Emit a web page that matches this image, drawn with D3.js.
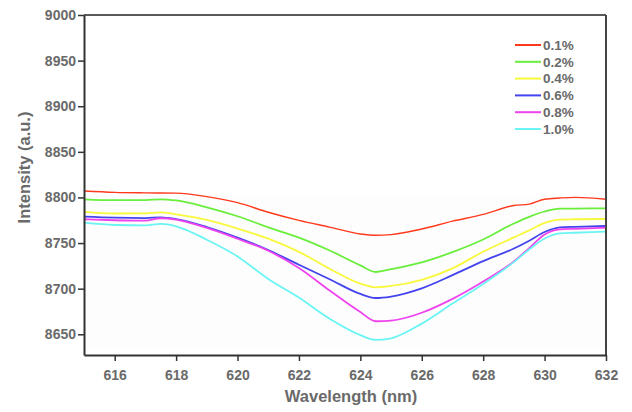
<!DOCTYPE html>
<html>
<head>
<meta charset="utf-8">
<script src="https://cdn.jsdelivr.net/npm/d3@7"></script>
<style>
  html, body { margin: 0; padding: 0; background: #fff; }
  svg { display: block; font-family: "Liberation Sans", Arial, sans-serif; }
</style>
</head>
<body>
<svg id="chart" width="632" height="412"></svg>
<script>
// Emission intensity vs wavelength for several dopant concentrations
const wavelengths = [615, 616, 617, 617.5, 618, 619, 620, 621, 622, 623, 624, 624.5, 625, 626, 627, 628, 629, 629.5, 630, 630.5, 631, 632];

const conc01 = [8807.1, 8805.6, 8805.0, 8804.8, 8804.7, 8800.9, 8794.4, 8783.8, 8774.9, 8767.5, 8760.0, 8758.5, 8759.2, 8765.4, 8774.0, 8781.4, 8791.2, 8792.7, 8798.1, 8799.4, 8800.1, 8798.1];
const conc02 = [8798.0, 8797.0, 8797.1, 8798.0, 8796.7, 8789.2, 8779.4, 8767.2, 8756.0, 8741.9, 8725.5, 8718.3, 8721.4, 8728.8, 8740.1, 8753.9, 8771.5, 8778.8, 8784.6, 8787.7, 8787.8, 8788.1];
const conc04 = [8784.1, 8782.4, 8782.6, 8783.7, 8781.4, 8775.3, 8765.9, 8754.9, 8740.4, 8721.8, 8705.5, 8701.5, 8703.0, 8709.7, 8722.2, 8740.5, 8756.2, 8763.9, 8772.1, 8775.8, 8776.1, 8776.4];
const conc06 = [8778.9, 8777.8, 8777.4, 8778.2, 8776.3, 8767.6, 8756.0, 8742.4, 8726.2, 8710.4, 8694.2, 8689.8, 8691.4, 8700.4, 8714.8, 8730.2, 8744.0, 8752.6, 8762.1, 8767.2, 8767.8, 8768.7];
const conc08 = [8776.1, 8775.0, 8774.5, 8777.2, 8775.6, 8766.6, 8754.7, 8741.6, 8722.6, 8698.0, 8674.4, 8664.3, 8665.0, 8673.6, 8688.8, 8707.9, 8729.8, 8744.5, 8759.4, 8765.1, 8765.6, 8766.9];
const conc10 = [8772.3, 8769.8, 8769.3, 8771.0, 8768.4, 8753.7, 8735.4, 8710.6, 8690.3, 8667.0, 8649.1, 8643.8, 8645.6, 8661.7, 8683.7, 8705.2, 8729.1, 8743.0, 8755.0, 8760.7, 8761.3, 8762.5];

const seriesLabels = ["0.1%", "0.2%", "0.4%", "0.6%", "0.8%", "1.0%"];
const seriesValues = [conc01, conc02, conc04, conc06, conc08, conc10];
const seriesColors = ["#ff3a1c", "#6aee3c", "#f8f83c", "#4444ee", "#ee44ee", "#6af4f4"];

const xTicks = [616, 618, 620, 622, 624, 626, 628, 630, 632];
const yTicks = [8650, 8700, 8750, 8800, 8850, 8900, 8950, 9000];

const margin = { left: 84, top: 15, right: 26, bottom: 57 };
const W = 632, H = 412;
const svg = d3.select("#chart");

const x = d3.scaleLinear().domain([615, 632]).range([margin.left, W - margin.right]);
const y = d3.scaleLinear().domain([8627.3, 9000]).range([H - margin.bottom, margin.top]);

const textGray = "#6a6a6a";

// very faint shaded band in the lower plot area
svg.append("rect")
  .attr("x", x(615)).attr("y", y(8803))
  .attr("width", x(632) - x(615)).attr("height", y(8634) - y(8803))
  .attr("fill", "#fdfdfd");

// data lines
const line = d3.line()
  .x((d, i) => x(wavelengths[i]))
  .y(d => y(d))
  .curve(d3.curveMonotoneX);

seriesValues.forEach((vals, k) => {
  svg.append("path")
    .datum(vals)
    .attr("fill", "none")
    .attr("stroke", seriesColors[k])
    .attr("stroke-width", k === 0 ? 1.4 : 1.8)
    .attr("stroke-linejoin", "round")
    .attr("d", line);
});

// frame: top and right edges
svg.append("line")
  .attr("x1", x(615)).attr("x2", x(632))
  .attr("y1", y(9000)).attr("y2", y(9000))
  .attr("stroke", "#5a5a5a").attr("stroke-width", 2);
svg.append("line")
  .attr("x1", x(632)).attr("x2", x(632))
  .attr("y1", y(9000)).attr("y2", y(8627.3))
  .attr("stroke", "#444").attr("stroke-width", 2);

// axes
const xAxis = d3.axisBottom(x).tickValues(xTicks).tickFormat(d3.format("d"))
  .tickSizeInner(6).tickSizeOuter(0).tickPadding(9);
const yAxis = d3.axisLeft(y).tickValues(yTicks).tickFormat(d3.format("d"))
  .tickSizeInner(6).tickSizeOuter(0).tickPadding(2);

const gx = svg.append("g").attr("transform", `translate(0,${H - margin.bottom})`).call(xAxis);
const gy = svg.append("g").attr("transform", `translate(${margin.left},0)`).call(yAxis);

[gx, gy].forEach(g => {
  g.select(".domain").attr("stroke", "#333").attr("stroke-width", 2);
  g.selectAll(".tick line").attr("stroke", "#333").attr("stroke-width", 1.5);
  g.selectAll(".tick text")
    .attr("fill", textGray)
    .attr("font-family", "'Liberation Sans', Arial, sans-serif")
    .attr("font-weight", "bold")
    .attr("font-size", 14);
});

// axis titles
svg.append("text")
  .attr("x", (x(615) + x(632)) / 2 + 6)
  .attr("y", 402)
  .attr("text-anchor", "middle")
  .attr("fill", textGray)
  .attr("font-weight", "bold")
  .attr("font-size", 16.5)
  .text("Wavelength (nm)");

svg.append("text")
  .attr("transform", "translate(30,167.5) rotate(-90)")
  .attr("text-anchor", "middle")
  .attr("fill", textGray)
  .attr("font-weight", "bold")
  .attr("font-size", 16.5)
  .text("Intensity (a.u.)");

// legend
const legend = svg.append("g").attr("transform", "translate(515,45)");
seriesLabels.forEach((lab, k) => {
  const row = legend.append("g").attr("transform", `translate(0,${k * 16.8})`);
  row.append("line")
    .attr("x1", 0).attr("x2", 26).attr("y1", 0).attr("y2", 0)
    .attr("stroke", seriesColors[k]).attr("stroke-width", 2);
  row.append("text")
    .attr("x", 28).attr("y", 0).attr("dy", "0.36em")
    .attr("fill", textGray)
    .attr("font-weight", "bold")
    .attr("font-size", 13.5)
    .text(lab);
});
</script>
</body>
</html>
